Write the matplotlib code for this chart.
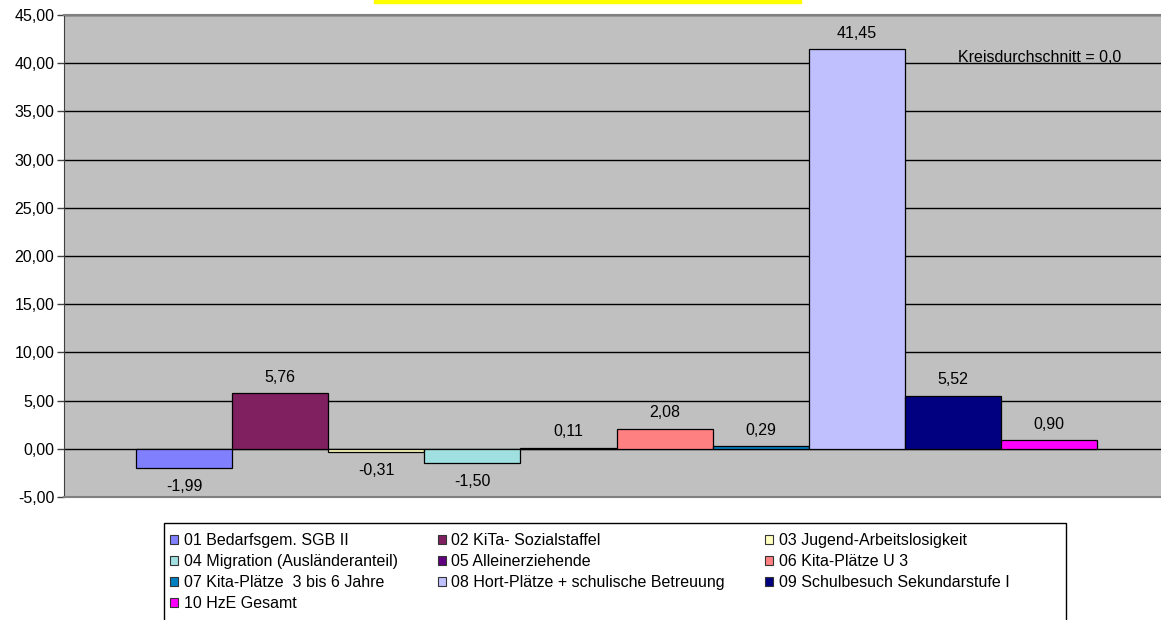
import numpy as np
import matplotlib
matplotlib.use('Agg')
import matplotlib.pyplot as plt
from matplotlib.patches import Patch, Rectangle
from matplotlib.ticker import FuncFormatter

plt.rcParams['font.family'] = ['Liberation Sans', 'DejaVu Sans']

# ============================================================
# DATA
# ============================================================
labels = [
    "01 Bedarfsgem. SGB II",
    "02 KiTa- Sozialstaffel",
    "03 Jugend-Arbeitslosigkeit",
    "04 Migration (Ausländeranteil)",
    "05 Alleinerziehende",
    "06 Kita-Plätze U 3",
    "07 Kita-Plätze  3 bis 6 Jahre",
    "08 Hort-Plätze + schulische Betreuung",
    "09 Schulbesuch Sekundarstufe I",
    "10 HzE Gesamt",
]
values = [-1.99, 5.76, -0.31, -1.50, 0.11, 2.08, 0.29, 41.45, 5.52, 0.90]
colors = ['#8080FF', '#802060', '#FFFFC0', '#A0E0E0', '#600080',
          '#FF8080', '#0080C0', '#C0C0FF', '#000080', '#FF00FF']
y_ticks = np.arange(-5, 46, 5)
note = "Kreisdurchschnitt = 0,0"

FS = 11.5

def de(v, nd=2):
    return f"{v:.{nd}f}".replace('.', ',')

# ============================================================
# PLOT
# ============================================================
W, H = 1161, 620
fig = plt.figure(figsize=(W / 100, H / 100), dpi=100)
ax = fig.add_axes([64 / W, 1 - 497 / H, 1105 / W, 482 / H])
ax.set_facecolor('#C0C0C0')

x = np.arange(len(values))
ax.bar(x, values, width=1.0, color=colors, edgecolor='black', linewidth=0.9, zorder=3)

ax.set_xlim(-1.25, len(values) - 1 + 1.25)
ax.set_ylim(y_ticks[0], y_ticks[-1])
ax.set_yticks(y_ticks)
ax.yaxis.set_major_formatter(FuncFormatter(lambda v, p: de(v)))
ax.set_xticks([])
ax.tick_params(axis='y', labelsize=FS, length=5, width=1, color='#404040', pad=2)
ax.yaxis.grid(True, color='black', linewidth=1)
ax.set_axisbelow(True)

for side in ['top', 'bottom']:
    ax.spines[side].set_color('#808080')
    ax.spines[side].set_linewidth(1.5)
ax.spines['left'].set_color('#404040')
ax.spines['right'].set_visible(False)

for xi, v in zip(x, values):
    if v >= 0:
        ax.annotate(de(v), (xi, v), xytext=(0, 6), textcoords='offset points',
                    ha='center', va='bottom', fontsize=FS)
    else:
        ax.annotate(de(v), (xi, v), xytext=(0, -8), textcoords='offset points',
                    ha='center', va='top', fontsize=FS)

ax.text(8.05, 40.15, note, ha='left', va='baseline', fontsize=FS)

# yellow title box (cut off at top)
fig.patches.append(Rectangle((374 / W, 1 - 3 / H), 427 / W, 3 / H,
                             transform=fig.transFigure, color='#FFFF00'))

# legend frame (runs off the bottom edge)
fig.patches.append(Rectangle((164 / W, -0.02), 902 / W, 0.02 + (620 - 523) / H,
                             transform=fig.transFigure, facecolor='white',
                             edgecolor='black', linewidth=1, zorder=0))

# legend, filled row by row
order = [0, 3, 6, 9, 1, 4, 7, 2, 5, 8]
handles = [Patch(facecolor=colors[i], edgecolor='#333333', linewidth=0.8) for i in order]
leg = fig.legend(handles, [labels[i] for i in order], ncol=3,
                 loc='upper left', bbox_to_anchor=(164 / W, 1 - 527 / H),
                 fontsize=FS, frameon=False,
                 handlelength=0.5, handleheight=0.5, handletextpad=0.35,
                 columnspacing=2.5, labelspacing=0.375, borderpad=0.4,
                 borderaxespad=0)

plt.savefig('out.png', dpi=100)
